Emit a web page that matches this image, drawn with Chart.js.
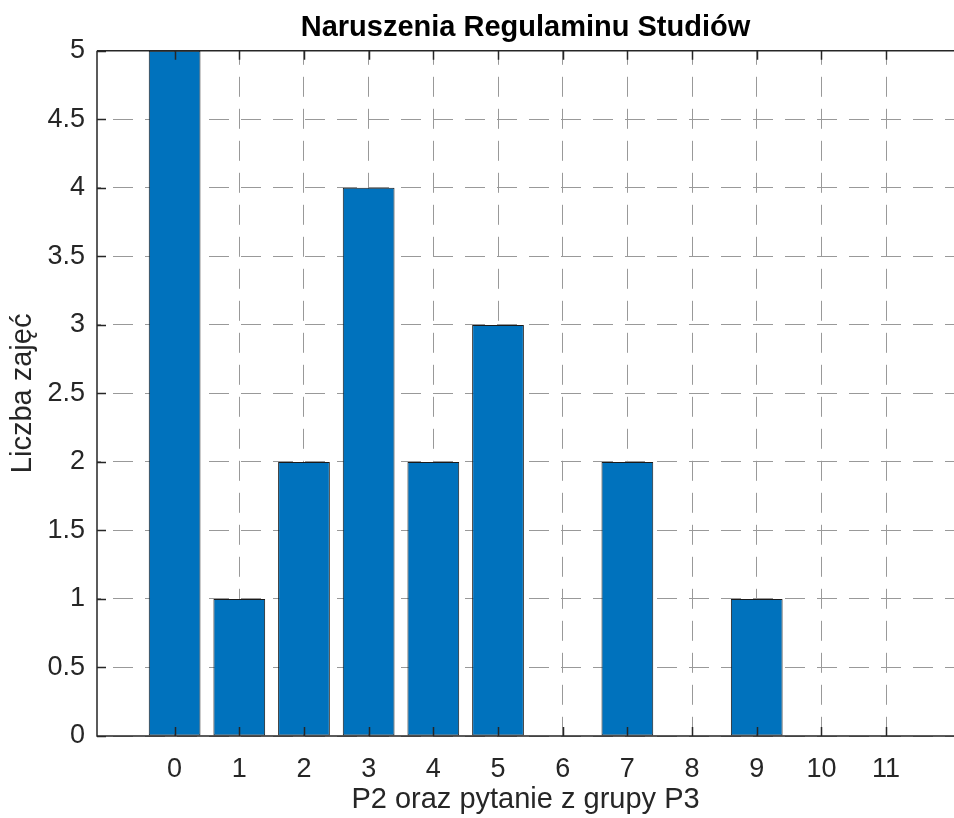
<!DOCTYPE html>
<html>
<head>
<meta charset="utf-8">
<script src="https://cdn.jsdelivr.net/npm/chart.js@4"></script>
<style>
  html, body { margin: 0; padding: 0; background: #fff; }
  canvas { display: block; }
</style>
</head>
<body>
<canvas id="bar-chart" width="954" height="818"></canvas>
<script>
// values
const categories = [0, 1, 2, 3, 4, 5, 6, 7, 8, 9, 10, 11];
const counts = [5, 1, 2, 4, 2, 3, 0, 2, 0, 1, 0, 0];
const yTicks = [0, 0.5, 1, 1.5, 2, 2.5, 3, 3.5, 4, 4.5, 5];

const fontFamily = "'Liberation Sans', Arial, Helvetica, sans-serif";
const textColor = '#262626';

// MATLAB style box with inward tick marks
const axesBox = {
    id: 'axesBox',
    afterDraw(chart) {
        const { ctx, chartArea: a, scales } = chart;
        const x = scales.x;
        const y = scales.y;
        ctx.save();
        ctx.strokeStyle = textColor;
        ctx.lineWidth = 1.5;
        ctx.beginPath();
        ctx.moveTo(a.left, a.top);
        ctx.lineTo(a.right, a.top);
        ctx.moveTo(a.left, a.top);
        ctx.lineTo(a.left, a.bottom);
        ctx.lineTo(a.right, a.bottom);
        x.ticks.forEach(t => {
            const px = Math.round(x.getPixelForValue(t.value)) + 0.5;
            ctx.moveTo(px, a.bottom);
            ctx.lineTo(px, a.bottom - 9);
            ctx.moveTo(px, a.top);
            ctx.lineTo(px, a.top + 9);
        });
        y.ticks.forEach(t => {
            const py = Math.round(y.getPixelForValue(t.value)) + 0.5;
            ctx.moveTo(a.left, py);
            ctx.lineTo(a.left + 9, py);
        });
        ctx.stroke();
        ctx.restore();
    }
};

const ctx = document.getElementById('bar-chart').getContext('2d');
new Chart(ctx, {
    type: 'bar',
    data: {
        datasets: [{
            data: categories.map((c, i) => ({ x: c, y: counts[i] })),
            backgroundColor: '#0072BD',
            borderColor: '#1a1a1a',
            borderWidth: 1,
            borderSkipped: false,
            categoryPercentage: 1,
            barPercentage: 0.8,
        }],
    },
    options: {
        responsive: false,
        animation: false,
        layout: { padding: 0 },
        scales: {
            x: {
                type: 'linear',
                min: -1.2,
                max: 12.05,
                offset: false,
                afterBuildTicks: (scale) => {
                    scale.ticks = categories.map(v => ({ value: v }));
                },
                afterFit: (scale) => { scale.height = 82; },
                ticks: {
                    color: textColor,
                    font: { family: fontFamily, size: 27 },
                    padding: 17,
                    maxRotation: 0,
                    autoSkip: false,
                    callback: (v) => String(v),
                },
                grid: {
                    offset: false,
                    color: '#999999',
                    lineWidth: 1,
                    drawTicks: false,
                },
                border: { display: false, dash: [20, 12], dashOffset: 6 },
                title: {
                    display: true,
                    text: 'P2 oraz pytanie z grupy P3',
                    color: textColor,
                    font: { family: fontFamily, size: 29 },
                    padding: { top: 2, bottom: 1 },
                },
            },
            y: {
                min: 0,
                max: 5,
                afterBuildTicks: (scale) => {
                    scale.ticks = yTicks.map(v => ({ value: v }));
                },
                afterFit: (scale) => { scale.width = 97; },
                ticks: {
                    color: textColor,
                    font: { family: fontFamily, size: 27 },
                    padding: 12,
                    callback: (v) => String(v),
                },
                grid: {
                    color: '#999999',
                    lineWidth: 1,
                    drawTicks: false,
                },
                border: { display: false, dash: [20, 12], dashOffset: 16 },
                title: {
                    display: true,
                    text: 'Liczba zajęć',
                    color: textColor,
                    font: { family: fontFamily, size: 29 },
                    padding: { top: 6, bottom: 0 },
                },
            },
        },
        plugins: {
            legend: { display: false },
            tooltip: { enabled: false },
            title: {
                display: true,
                fullSize: false,
                text: 'Naruszenia Regulaminu Studiów',
                color: '#000',
                font: { family: fontFamily, size: 29, weight: 'bold' },
                padding: { top: 11, bottom: 5 },
            },
        },
    },
    plugins: [axesBox],
});
</script>
</body>
</html>
